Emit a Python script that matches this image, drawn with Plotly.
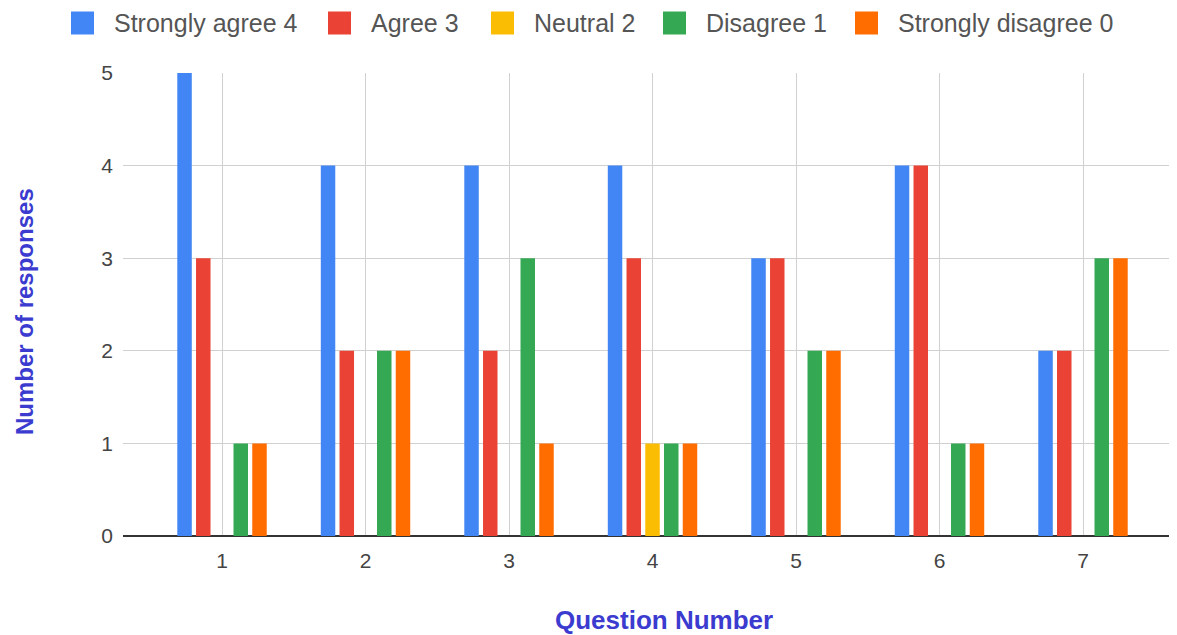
import plotly.graph_objects as go

# ---- data ----
questions = [1, 2, 3, 4, 5, 6, 7]
series_names = ["Strongly agree 4", "Agree 3", "Neutral 2", "Disagree 1", "Strongly disagree 0"]
strongly_agree = [5, 4, 4, 4, 3, 4, 2]
agree = [3, 2, 2, 3, 3, 4, 2]
neutral = [0, 0, 0, 1, 0, 0, 0]
disagree = [1, 2, 3, 1, 2, 1, 3]
strongly_disagree = [1, 2, 1, 1, 2, 1, 3]
y_ticks = [0, 1, 2, 3, 4, 5]

series_values = [strongly_agree, agree, neutral, disagree, strongly_disagree]
colors = ["#4285F4", "#EA4335", "#FBBC04", "#34A853", "#FF6D01"]

# ---- layout constants (window pixels; page body has an 8px margin) ----
OFF = 8
W, H = 1177 - OFF, 635 - OFF
L, T = 123 - OFF, 73 - OFF
PLOT_BOTTOM = 536 - OFF
R, B = 0, H - PLOT_BOTTOM
PW, PH = W - L - R, H - T - B
FONT = "Arial, Liberation Sans, sans-serif"
TITLE_COLOR = "#3b3bd0"


def px_x(px):
    return (px - OFF - L) / PW


def px_y(py):
    return 1 - (py - OFF - T) / PH


fig = go.Figure()
for name, vals, col in zip(series_names, series_values, colors):
    fig.add_trace(go.Bar(x=questions, y=vals, name=name, marker_color=col,
                         marker_line_width=0, showlegend=False))

# custom legend (square swatches + labels)
legend_square_left = [71, 328, 491, 663, 855]
sq = 23
legend_cy = 23
for name, col, lx in zip(series_names, colors, legend_square_left):
    fig.add_shape(type="rect", xref="paper", yref="paper",
                  x0=px_x(lx), x1=px_x(lx + sq),
                  y0=px_y(legend_cy + sq / 2), y1=px_y(legend_cy - sq / 2),
                  fillcolor=col, line_width=0)
    fig.add_annotation(xref="paper", yref="paper", x=px_x(lx + sq + 18), y=px_y(legend_cy),
                       xanchor="left", yanchor="middle", text=name, showarrow=False,
                       font=dict(family=FONT, size=25, color="#555555"))

# axis titles
fig.add_annotation(xref="paper", yref="paper", x=px_x(24), y=px_y(312),
                   text="<b>Number of responses</b>", textangle=-90, showarrow=False,
                   xanchor="center", yanchor="middle",
                   font=dict(family=FONT, size=24, color=TITLE_COLOR))
fig.add_annotation(xref="paper", yref="paper", x=px_x(664), y=px_y(620),
                   text="<b>Question Number</b>", showarrow=False,
                   xanchor="center", yanchor="middle",
                   font=dict(family=FONT, size=26, color=TITLE_COLOR))

fig.update_layout(
    width=W, height=H,
    margin=dict(l=L, r=R, t=T, b=B, pad=0),
    paper_bgcolor="white", plot_bgcolor="white",
    barmode="group", bargap=0.347, bargroupgap=0.227,
    showlegend=False,
    font=dict(family=FONT, size=20, color="#444444"),
)
fig.update_xaxes(range=[0.31, 7.655], tickmode="array", tickvals=questions,
                 ticktext=[str(q) for q in questions],
                 showgrid=True, gridcolor="#d0d0d0", gridwidth=1,
                 showline=False, zeroline=False, ticks="",
                 tickfont=dict(family=FONT, size=21, color="#444444"),
                 ticklabelstandoff=10)
fig.update_yaxes(range=[0, 5], tickmode="array", tickvals=y_ticks,
                 showgrid=True, gridcolor="#d0d0d0", gridwidth=1,
                 zeroline=True, zerolinecolor="#333333", zerolinewidth=1.5,
                 showline=False, ticks="",
                 tickfont=dict(family=FONT, size=21, color="#444444"),
                 ticklabelstandoff=9)

fig.write_html("out.html")
